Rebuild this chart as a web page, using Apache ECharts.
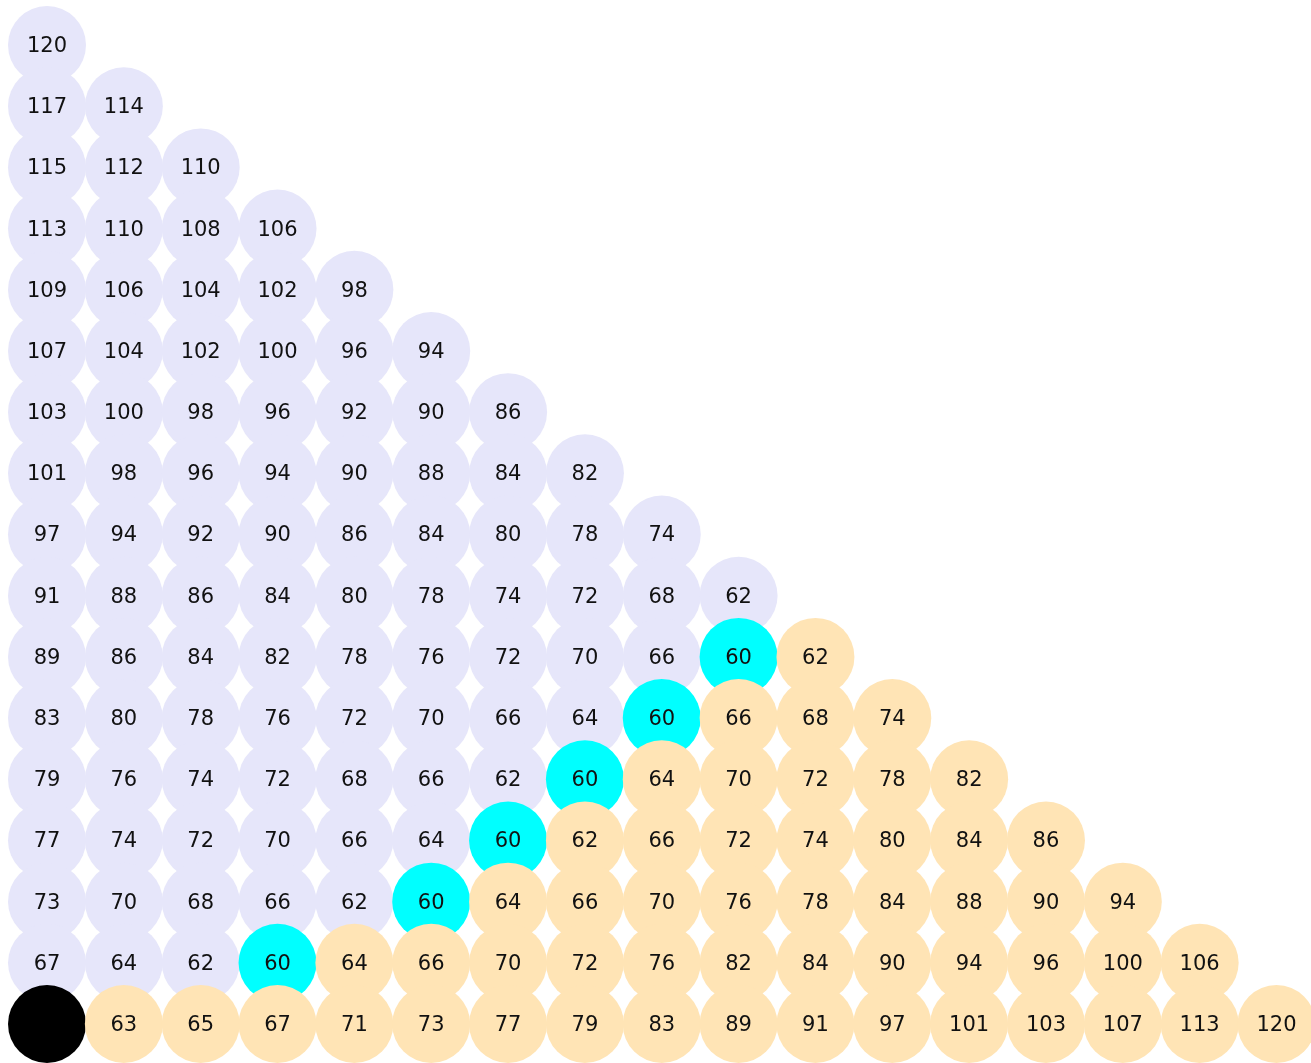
<!DOCTYPE html>
<html>
<head>
<meta charset="utf-8">
<script src="https://cdn.jsdelivr.net/npm/echarts@6/dist/echarts.min.js"></script>
<style>
html,body{margin:0;padding:0;background:#fff;}
#chart{width:1311px;height:1063px;}
</style>
</head>
<body>
<div id="chart"></div>
<script>
// Rows from top to bottom; null marks the black origin node
const row0  = [120];
const row1  = [117, 114];
const row2  = [115, 112, 110];
const row3  = [113, 110, 108, 106];
const row4  = [109, 106, 104, 102, 98];
const row5  = [107, 104, 102, 100, 96, 94];
const row6  = [103, 100, 98, 96, 92, 90, 86];
const row7  = [101, 98, 96, 94, 90, 88, 84, 82];
const row8  = [97, 94, 92, 90, 86, 84, 80, 78, 74];
const row9  = [91, 88, 86, 84, 80, 78, 74, 72, 68, 62];
const row10 = [89, 86, 84, 82, 78, 76, 72, 70, 66, 60, 62];
const row11 = [83, 80, 78, 76, 72, 70, 66, 64, 60, 66, 68, 74];
const row12 = [79, 76, 74, 72, 68, 66, 62, 60, 64, 70, 72, 78, 82];
const row13 = [77, 74, 72, 70, 66, 64, 60, 62, 66, 72, 74, 80, 84, 86];
const row14 = [73, 70, 68, 66, 62, 60, 64, 66, 70, 76, 78, 84, 88, 90, 94];
const row15 = [67, 64, 62, 60, 64, 66, 70, 72, 76, 82, 84, 90, 94, 96, 100, 106];
const row16 = [null, 63, 65, 67, 71, 73, 77, 79, 83, 89, 91, 97, 101, 103, 107, 113, 120];
const rows = [row0,row1,row2,row3,row4,row5,row6,row7,row8,row9,row10,row11,row12,row13,row14,row15,row16];
const pivotValue = 60;

const COL_LEFT = '#e6e6fa', COL_PIVOT = '#00ffff', COL_RIGHT = '#ffe4b5', COL_ORIGIN = '#000000';
const nRows = rows.length;
const nodes = [];
const links = [];
rows.forEach((vals, r) => {
  let pivot = vals.indexOf(pivotValue);
  if (vals.indexOf(null) >= 0) pivot = vals.indexOf(null);
  const y = nRows - 1 - r;
  const startIdx = nodes.length;
  vals.forEach((v, c) => {
    let color;
    if (v === null) color = COL_ORIGIN;
    else if (pivot < 0 || c < pivot) color = COL_LEFT;
    else if (c === pivot) color = COL_PIVOT;
    else color = COL_RIGHT;
    nodes.push({
      name: 'n' + r + '_' + c,
      value: [c, y],
      itemStyle: { color: color },
      label: { show: v !== null, formatter: v === null ? '' : String(v) }
    });
    if (c > 0) links.push({ source: startIdx + c - 1, target: startIdx + c });
  });
});

const chart = echarts.init(document.getElementById('chart'));
chart.setOption({
  animation: false,
  backgroundColor: '#fff',
  grid: { left: 47, right: 34.5, top: 45, bottom: 39 },
  xAxis: { type: 'value', min: 0, max: 16, show: false },
  yAxis: { type: 'value', min: 0, max: 16, show: false },
  series: [{
    type: 'graph',
    coordinateSystem: 'cartesian2d',
    layout: 'none',
    symbol: 'circle',
    symbolSize: 78,
    data: nodes,
    links: links,
    lineStyle: { color: '#ff0000', width: 1, opacity: 0.5, curveness: 0 },
    label: {
      show: true,
      position: 'inside',
      offset: [0, 1.5],
      color: '#111111',
      fontFamily: 'DejaVu Sans',
      fontSize: 21
    },
    emphasis: { disabled: true }
  }]
});
</script>
</body>
</html>
